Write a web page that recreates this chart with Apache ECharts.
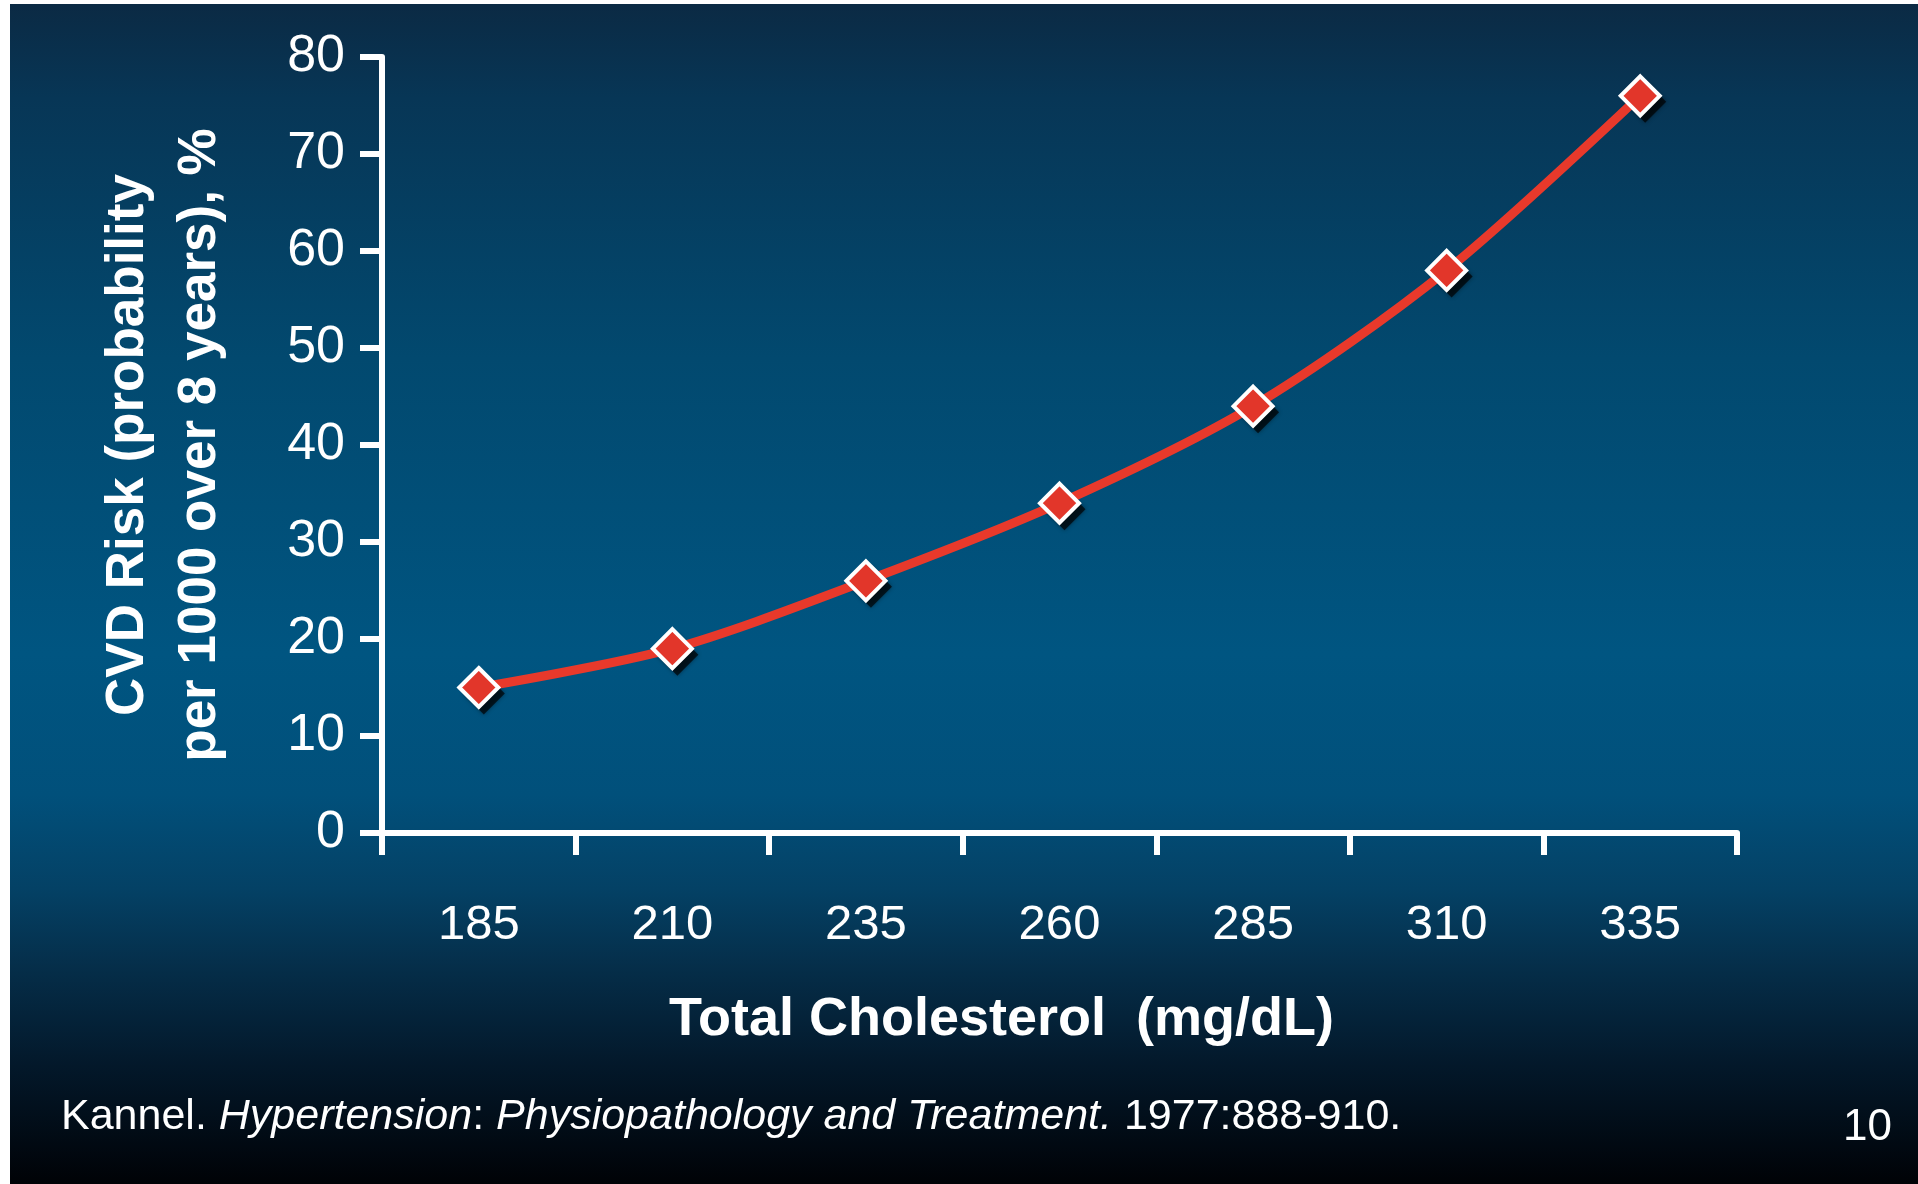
<!DOCTYPE html>
<html>
<head>
<meta charset="utf-8">
<title>CVD Risk vs Total Cholesterol</title>
<script src="https://cdn.jsdelivr.net/npm/echarts@6/dist/echarts.min.js"></script>
<style>
  html, body { margin: 0; padding: 0; background: #ffffff; }
  #chart { position: absolute; left: 10px; top: 4px; width: 1908px; height: 1180px; }
</style>
</head>
<body>
<div id="chart"></div>
<script>
// 数据
const cholesterol = ['185', '210', '235', '260', '285', '310', '335']
const cvdRisk = [15, 19, 26, 34, 44, 58, 76]
const yTicks = [0, 10, 20, 30, 40, 50, 60, 70, 80]

const FONT = '"Liberation Sans", Arial, Helvetica, sans-serif'

const chart = echarts.init(document.getElementById('chart'))

const option = {
  backgroundColor: new echarts.graphic.LinearGradient(0, 0, 0, 1, [
    { offset: 0, color: '#0b2a44' },
    { offset: 0.08, color: '#073656' },
    { offset: 0.3, color: '#02496f' },
    { offset: 0.55, color: '#005581' },
    { offset: 0.67, color: '#01507b' },
    { offset: 0.75, color: '#044165' },
    { offset: 0.82, color: '#052d48' },
    { offset: 0.9, color: '#03182a' },
    { offset: 1, color: '#000206' }
  ]),
  textStyle: { fontFamily: FONT },
  title: [
    {
      left: 51,
      top: 1092,
      padding: 0,
      text: '{n|Kannel. }{i|Hypertension}{n|: }{i|Physiopathology and Treatment.}{n| 1977:888-910.}',
      textStyle: {
        fontWeight: 'normal',
        rich: {
          n: { fontSize: 43, color: '#ffffff', fontWeight: 'normal', fontFamily: FONT },
          i: { fontSize: 43, color: '#ffffff', fontWeight: 'normal', fontFamily: FONT, fontStyle: 'italic' }
        }
      }
    },
    {
      right: 21,
      top: 1097,
      text: '10',
      textStyle: { fontSize: 44, color: '#ffffff', fontWeight: 'normal', fontFamily: FONT }
    }
  ],
  grid: {
    left: 372,
    right: 181,
    top: 53,
    bottom: 351
  },
  xAxis: {
    type: 'category',
    data: cholesterol,
    boundaryGap: true,
    name: 'Total Cholesterol  (mg/dL)',
    nameLocation: 'middle',
    nameGap: 160,
    nameTextStyle: {
      color: '#ffffff',
      fontSize: 54,
      fontWeight: 'bold',
      fontFamily: FONT,
      padding: [0, 116, 0, 0]
    },
    axisLine: { lineStyle: { color: '#ffffff', width: 6 } },
    axisTick: {
      show: true,
      alignWithLabel: false,
      length: 22,
      lineStyle: { color: '#ffffff', width: 6 }
    },
    axisLabel: {
      color: '#ffffff',
      fontSize: 49,
      margin: 68,
      fontFamily: FONT
    },
    splitLine: { show: false }
  },
  yAxis: {
    type: 'value',
    min: yTicks[0],
    max: yTicks[yTicks.length - 1],
    interval: 10,
    name: 'CVD Risk (probability\nper 1000 over 8 years), %',
    nameLocation: 'middle',
    nameGap: 146,
    nameTextStyle: {
      color: '#ffffff',
      fontSize: 53,
      fontWeight: 'bold',
      lineHeight: 72,
      fontFamily: FONT
    },
    axisLine: { show: true, lineStyle: { color: '#ffffff', width: 6 } },
    axisTick: {
      show: true,
      length: 22,
      lineStyle: { color: '#ffffff', width: 6 }
    },
    axisLabel: {
      color: '#ffffff',
      fontSize: 52,
      margin: 37,
      fontFamily: FONT
    },
    splitLine: { show: false }
  },
  series: [
    {
      // 标记阴影
      name: 'shadow',
      type: 'scatter',
      data: cvdRisk,
      symbol: 'diamond',
      symbolSize: 42,
      symbolOffset: [5, 6],
      itemStyle: {
        color: 'rgba(0, 0, 0, 0.85)',
        shadowColor: 'rgba(0, 0, 0, 0.6)',
        shadowBlur: 4
      },
      silent: true,
      z: 2
    },
    {
      name: 'CVD Risk',
      type: 'line',
      data: cvdRisk,
      smooth: 0.3,
      symbol: 'diamond',
      symbolSize: 39,
      showAllSymbol: true,
      lineStyle: { color: '#e8392b', width: 9 },
      itemStyle: {
        color: '#e2362a',
        borderColor: '#ffffff',
        borderWidth: 4
      },
      z: 3
    }
  ]
}

chart.setOption(option)
</script>
</body>
</html>
